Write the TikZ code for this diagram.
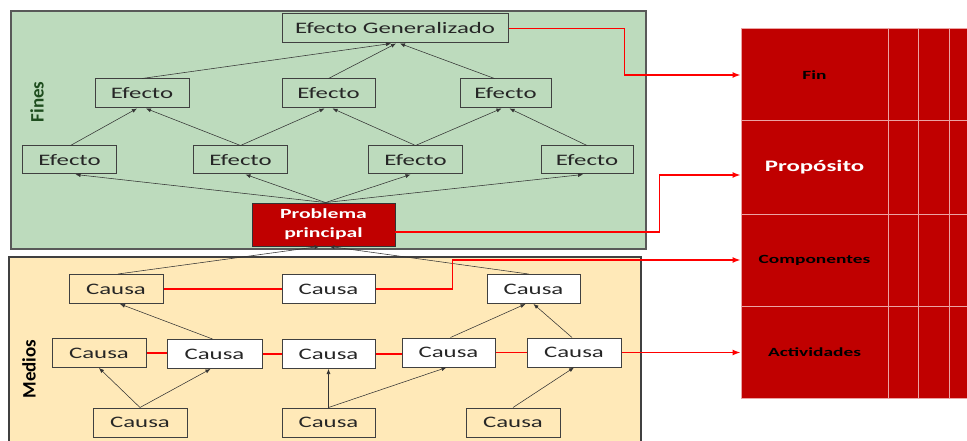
\documentclass[tikz,border=0pt]{standalone}
\usepackage{fontspec}
\setmainfont{Carlito}[FakeStretch=1.55]
\newfontfamily\sidelabelfont{Carlito}
\usetikzlibrary{arrows.meta}
\definecolor{panelgreen}{HTML}{BDDBBD}
\definecolor{panelyellow}{HTML}{FFE9B8}
\definecolor{darkred}{HTML}{C00000}
\definecolor{cellline}{HTML}{EBA3A3}
\definecolor{boxline}{HTML}{404040}
\definecolor{finesgreen}{HTML}{1E4D1E}
\begin{document}
\begin{tikzpicture}[x=1pt,y=-1pt,
  box/.style={draw=boxline,line width=1pt,minimum width=94pt,minimum height=29pt,inner sep=0pt,font=\fontsize{16}{18}\selectfont,text=black!85},
  gbox/.style={box,fill=panelgreen},
  wbox/.style={box,fill=white},
  ybox/.style={box,fill=panelyellow},
  link/.style={draw=black!80,line width=0.55pt,-{Latex[length=5pt,width=4pt]}},
  redlink/.style={draw=red,line width=1.4pt},
  redarrow/.style={redlink,-{Latex[length=8pt,width=6pt]}},
  cell/.style={fill=darkred,draw=cellline,line width=1pt,inner sep=0pt},
  celltext/.style={font=\bfseries\fontsize{12.5}{14}\selectfont,text=black},
  sidelabel/.style={rotate=90,font=\sidelabelfont\bfseries\fontsize{19}{21}\selectfont},
]
\useasboundingbox (0,0) rectangle (967,441);
\fill[white] (0,0) rectangle (967,441);
% panels
\draw[fill=panelgreen,draw=black!65,line width=1.2pt] (11,11) rectangle (646,249);
\draw[fill=panelyellow,draw=black!75,line width=1.2pt] (9,257) rectangle (641,447);
\node[sidelabel,text=finesgreen] (fines) at (37,102) {Fines};
\node[sidelabel,text=black] (medios) at (29,369) {Medios};
% effects
\node[gbox,minimum width=226pt] (EG) at (395,28.5) {Efecto Generalizado};
\node[gbox] (E2a) at (142,93.5) {Efecto};
\node[gbox,minimum width=93pt] (E2b) at (328.5,93.5) {Efecto};
\node[gbox,minimum width=91pt] (E2c) at (505.5,93.5) {Efecto};
\node[gbox,minimum height=28pt] (E3a) at (69.5,160) {Efecto};
\node[gbox,minimum height=28pt] (E3b) at (240.5,160) {Efecto};
\node[gbox,minimum height=28pt] (E3c) at (415.5,160) {Efecto};
\node[gbox,minimum height=28pt,minimum width=92pt] (E3d) at (587,160) {Efecto};
\node[draw=black!80,line width=0.9pt,fill=darkred,minimum width=143pt,minimum height=43pt,inner sep=0pt,align=center,text=white,font=\bfseries\fontsize{14}{19}\selectfont] (PP) at (323.5,224.5) {Problema\\principal};
% causes
\node[ybox] (CA1) at (116,289) {Causa};
\node[wbox,minimum width=93pt] (CA2) at (328.5,289) {Causa};
\node[wbox,minimum width=93pt] (CA3) at (533.5,289) {Causa};
\node[ybox] (CB1) at (99,353) {Causa};
\node[wbox,minimum width=95pt] (CB2) at (214.5,354) {Causa};
\node[wbox,minimum width=93pt] (CB3) at (328.5,354) {Causa};
\node[wbox,minimum width=93pt] (CB4) at (448.5,352.5) {Causa};
\node[wbox] (CB5) at (574,352.5) {Causa};
\node[ybox] (CC1) at (140,422.5) {Causa};
\node[ybox,minimum width=93pt] (CC2) at (328.5,422.5) {Causa};
\node[ybox] (CC3) at (513,422.5) {Causa};
% table
\foreach \xa/\xb in {888/918,918/949,949/968}{
  \foreach \ya/\yb in {29/121,121/214,214/306,306/398}{
    \draw[cell] (\xa,\ya) rectangle (\xb,\yb);
  }
}
\node[cell,minimum width=147pt,minimum height=92pt,celltext] (fin) at (814.5,75) {Fin};
\node[cell,minimum width=147pt,minimum height=93pt,font=\bfseries\fontsize{16}{18}\selectfont,text=white] (prop) at (814.5,167.5) {Propósito};
\node[cell,minimum width=147pt,minimum height=92pt,celltext] (comp) at (814.5,260) {Componentes};
\node[cell,minimum width=147pt,minimum height=92pt,celltext] (act) at (814.5,352) {Actividades};
% black links, effects
\draw[link] (E2a.north) -- ([xshift=-4pt]EG.south);
\draw[link] (E2b.north) -- ([xshift=1pt]EG.south);
\draw[link] ([xshift=-11pt]E2c.north) -- ([xshift=5pt]EG.south);
\draw[link] ([xshift=1pt]E3a.north) -- ([xshift=-5pt]E2a.south);
\draw[link] (E3b.north) -- ([xshift=4pt]E2a.south);
\draw[link] (E3b.north) -- ([xshift=-4pt]E2b.south);
\draw[link] (E3c.north) -- ([xshift=4pt]E2b.south);
\draw[link] (E3c.north) -- ([xshift=-4pt]E2c.south);
\draw[link] (E3d.north) -- ([xshift=4pt]E2c.south);
\draw[link] ([xshift=2pt]PP.north) -- ([xshift=6pt]E3a.south);
\draw[link] ([xshift=2pt]PP.north) -- ([xshift=5pt]E3b.south);
\draw[link] ([xshift=2pt]PP.north) -- ([xshift=-5pt]E3c.south);
\draw[link] ([xshift=2pt]PP.north) -- ([xshift=-4pt]E3d.south);
% black links, causes
\draw[link] ([xshift=2pt]CA1.north) -- ([xshift=-4pt]PP.south);
\draw[link] ([xshift=-5pt]CA3.north) -- ([xshift=6pt]PP.south);
\draw[link] ([xshift=-2pt]CB2.north) -- ([xshift=4pt]CA1.south);
\draw[link] ([xshift=2pt]CB4.north) -- ([xshift=-8pt]CA3.south);
\draw[link] ([xshift=-2pt]CB5.north) -- (CA3.south);
\draw[link] (CC1.north) -- (CB1.south);
\draw[link] (CC1.north) -- ([xshift=-4pt]CB2.south);
\draw[link] (CC2.north) -- (CB3.south);
\draw[link] (CC2.north) -- ([xshift=-2pt]CB4.south);
\draw[link] (CC3.north) -- (CB5.south);
% red links
\draw[redarrow] (EG.east) -- ++(116,0) |- (fin.west);
\draw[redarrow] ([yshift=-7.5pt]PP.east) -- ++(264,0) |- ([yshift=-7.5pt]prop.west);
\draw[redlink] (CA1.east) -- (CA2.west);
\draw[redarrow] (CA2.east) -- ++(77,0) |- (comp.west);
\draw[redlink] (CB1.east) -- (CB1.east -| CB2.west);
\draw[redlink] (CB2.east) -- (CB2.east -| CB3.west);
\draw[redlink] (CB3.east) -- (CB3.east -| CB4.west);
\draw[redlink] (CB4.east) -- (CB5.west);
\draw[redarrow] (CB5.east) -- (CB5.east -| act.west);
\end{tikzpicture}
\end{document}
